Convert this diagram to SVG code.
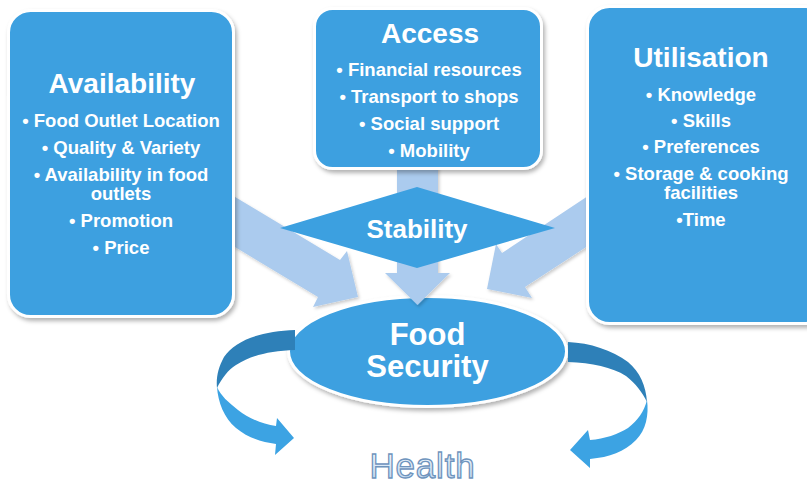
<svg xmlns="http://www.w3.org/2000/svg" width="807" height="486" viewBox="0 0 807 486">
  <defs>
    <filter id="sh" x="-10%" y="-10%" width="130%" height="130%">
      <feDropShadow dx="2" dy="3" stdDeviation="2" flood-color="#000" flood-opacity="0.3"/>
    </filter>
    <filter id="sh2" x="-10%" y="-10%" width="130%" height="130%">
      <feDropShadow dx="1.5" dy="2" stdDeviation="1.5" flood-color="#000" flood-opacity="0.2"/>
    </filter>
    <linearGradient id="hg" x1="0" y1="0" x2="0" y2="1">
      <stop offset="0" stop-color="#ffffff"/>
      <stop offset="1" stop-color="#b9d3ee"/>
    </linearGradient>
  </defs>
  <style>
    .box { fill: #3ca0e0; stroke: #ffffff; stroke-width: 3; filter: url(#sh); }
    .arr { fill: #abcbee; filter: url(#sh2); }
    .title { font-family: "Liberation Sans", Arial, sans-serif; font-weight: bold; font-size: 28px; fill: #ffffff; text-anchor: middle; }
    .item { font-family: "Liberation Sans", Arial, sans-serif; font-weight: bold; font-size: 18.5px; fill: #ffffff; text-anchor: middle; }
    .big { font-family: "Liberation Sans", Arial, sans-serif; font-weight: bold; font-size: 31px; fill: #ffffff; text-anchor: middle; }
    .dark { fill: #2e80b8; }
    .light { fill: #3ca3e3; }
  </style>

  <g id="food-security">
    <ellipse cx="427.5" cy="351.5" rx="139" ry="55" class="box"/>
    <text x="427.5" y="345" class="big">Food</text>
    <text x="427.5" y="377" class="big">Security</text>
  </g>

  <g id="connectors">
    <polygon class="arr" points="397,160 438,160 438,273 450,273 417.5,305 385,273 397,273"/>
    <polygon class="arr" points="220,188 340,260 347,251 358,297 313,307 318,297 220,238"/>
    <polygon class="arr" points="600,188 502,253 496,244 487,289 532,298 525,287 600,238"/>
    <path class="dark" d="M295,330 C262,331 235,340 224,357 C218,368 216,378 217,388 C222,378 228,370 236,365 C252,355 270,351 295,350 Z"/>
    <path class="light" d="M217,387 C218,402 224,418 236,428 C248,438 262,442 276,444 L275,455 L294,438 L277,418 L276,426 C262,424 248,418 238,410 C228,402 221,396 217,387 Z"/>
    <path class="dark" d="M568,342 C590,343 612,350 628,362 C640,372 646,386 647,402 C642,392 636,384 626,376 C612,367 592,363 568,362 Z"/>
    <path class="light" d="M647,400 C649,415 646,430 636,440 C624,452 610,457 590,459 L590,468 L570,450 L588,430 L590,440 C605,439 618,434 628,428 C638,420 644,412 647,400 Z"/>
  </g>

  <g id="availability">
    <rect x="8.5" y="10.5" width="225" height="306" rx="22" class="box"/>
    <text x="122" y="93" class="title">Availability</text>
    <text x="121" y="127" class="item">• Food Outlet Location</text>
    <text x="121" y="154" class="item">• Quality &amp; Variety</text>
    <text x="121" y="181" class="item">• Availability in food</text>
    <text x="121" y="200" class="item">outlets</text>
    <text x="121" y="227" class="item">• Promotion</text>
    <text x="121" y="254" class="item">• Price</text>
  </g>

  <g id="access">
    <rect x="314.5" y="8.5" width="227" height="160" rx="18" class="box"/>
    <text x="430" y="43" class="title">Access</text>
    <text x="429" y="76" class="item">• Financial resources</text>
    <text x="429" y="103" class="item">• Transport to shops</text>
    <text x="429" y="130" class="item">• Social support</text>
    <text x="429" y="157" class="item">• Mobility</text>
  </g>

  <g id="utilisation">
    <rect x="587.5" y="6.5" width="240" height="317" rx="22" class="box"/>
    <text x="701" y="67" class="title">Utilisation</text>
    <text x="701" y="101" class="item">• Knowledge</text>
    <text x="701" y="127" class="item">• Skills</text>
    <text x="701" y="153" class="item">• Preferences</text>
    <text x="701" y="180" class="item">• Storage &amp; cooking</text>
    <text x="701" y="199" class="item">facilities</text>
    <text x="701" y="226" class="item">•Time</text>
  </g>

  <g id="stability">
    <polygon points="280,228 417,187 555,228 417,268" fill="#3ca0e0"/>
    <text x="417" y="238" font-family="Liberation Sans, Arial, sans-serif" font-weight="bold" font-size="26" fill="#ffffff" text-anchor="middle">Stability</text>
  </g>

  <g id="health">
    <text x="422.5" y="478" font-family="Liberation Sans, Arial, sans-serif" font-size="35" fill="url(#hg)" stroke="#6f94bd" stroke-width="1.3" text-anchor="middle" letter-spacing="0.8">Health</text>
  </g>
</svg>
